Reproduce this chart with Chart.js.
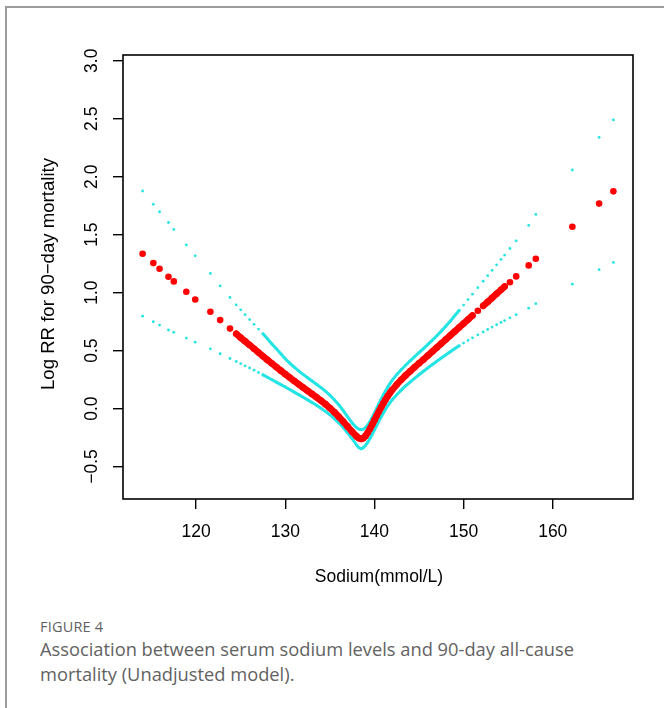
<!DOCTYPE html>
<html>
<head>
<meta charset="utf-8">
<title>Sodium and 90-day mortality</title>
<script src="https://cdn.jsdelivr.net/npm/chart.js@4.4.1/dist/chart.umd.min.js"></script>
<style>
  body { margin: 0; background: #fff; }
  #frame {
    position: absolute; left: 5px; top: 6px; width: 720px; height: 760px;
    border-left: 2px solid #9c9c9c; border-top: 2px solid #9c9c9c;
  }
  #plot { position: absolute; left: 0; top: 0; }
  .caption { position: absolute; left: 40px; font-family: "Open Sans", sans-serif; color: #626262; }
  #figLabel { top: 617px; font-size: 14.5px; letter-spacing: 0.2px; }
  #figText { top: 636px; font-size: 18.3px; line-height: 25px; width: 620px; }
</style>
</head>
<body>
<div id="frame"></div>
<canvas id="plot" width="664" height="600"></canvas>
<div class="caption" id="figLabel">FIGURE 4</div>
<div class="caption" id="figText">Association between serum sodium levels and 90-day all-cause<br>mortality (Unadjusted model).</div>

<script>
// serum sodium (mmol/L) and the fitted log RR with its 95% band
const sodium = [
  114.0, 115.2, 115.9, 116.9, 117.5, 118.9, 119.9, 121.6, 122.7, 123.8,
  124.5, 125.0, 125.5, 126.0, 126.5, 127.0, 127.5, 128.0, 128.5, 129.0,
  129.5, 130.0, 130.5, 131.0, 131.5, 132.0, 132.5, 133.0, 133.5, 134.0,
  134.5, 135.0, 135.5, 136.0, 136.5, 137.0, 137.5, 138.0, 138.25, 138.5,
  138.75, 139.0, 139.25, 139.5, 139.75, 140.0, 140.25, 140.5, 140.75, 141.0,
  141.25, 141.5, 141.75, 142.0, 142.5, 143.0, 143.5, 144.0, 144.5, 145.0,
  145.5, 146.0, 146.5, 147.0, 147.5, 148.0, 148.5, 149.0, 149.5, 150.0,
  150.5, 151.0, 151.6, 152.2, 152.7, 153.2, 153.7, 154.2, 154.6, 155.2,
  155.9, 157.3, 158.1, 162.2, 165.2, 166.8
];
const logRR = [
  1.336, 1.255, 1.206, 1.137, 1.097, 1.008, 0.941, 0.835, 0.763, 0.690,
  0.645, 0.612, 0.580, 0.548, 0.516, 0.484, 0.452, 0.420, 0.389, 0.358,
  0.327, 0.297, 0.267, 0.238, 0.210, 0.182, 0.154, 0.126, 0.098, 0.069,
  0.038, 0.005, -0.031, -0.070, -0.112, -0.156, -0.200, -0.240, -0.255, -0.262,
  -0.255, -0.236, -0.208, -0.175, -0.138, -0.100, -0.062, -0.025, 0.011, 0.045,
  0.078, 0.108, 0.136, 0.162, 0.207, 0.248, 0.286, 0.322, 0.356, 0.390,
  0.423, 0.458, 0.492, 0.527, 0.561, 0.596, 0.630, 0.665, 0.699, 0.734,
  0.768, 0.803, 0.844, 0.886, 0.920, 0.955, 0.990, 1.024, 1.052, 1.090,
  1.140, 1.235, 1.293, 1.569, 1.768, 1.874
];
const upperCI = [
  1.877, 1.762, 1.698, 1.605, 1.545, 1.412, 1.318, 1.166, 1.058, 0.958,
  0.895, 0.852, 0.810, 0.768, 0.727, 0.686, 0.645, 0.602, 0.558, 0.515,
  0.472, 0.430, 0.392, 0.357, 0.325, 0.295, 0.266, 0.238, 0.210, 0.181,
  0.150, 0.116, 0.077, 0.033, -0.017, -0.072, -0.124, -0.165, -0.178, -0.182,
  -0.178, -0.165, -0.142, -0.112, -0.076, -0.038, 0.002, 0.042, 0.081, 0.118,
  0.153, 0.186, 0.217, 0.245, 0.293, 0.335, 0.374, 0.411, 0.447, 0.482,
  0.517, 0.553, 0.590, 0.628, 0.668, 0.710, 0.754, 0.800, 0.846, 0.893,
  0.940, 0.987, 1.043, 1.099, 1.146, 1.193, 1.240, 1.287, 1.324, 1.381,
  1.447, 1.580, 1.675, 2.058, 2.340, 2.490
];
const lowerCI = [
  0.797, 0.749, 0.720, 0.678, 0.658, 0.608, 0.573, 0.515, 0.473, 0.432,
  0.406, 0.388, 0.369, 0.350, 0.331, 0.311, 0.291, 0.270, 0.249, 0.228,
  0.207, 0.186, 0.164, 0.142, 0.120, 0.098, 0.075, 0.052, 0.028, 0.003,
  -0.024, -0.053, -0.086, -0.123, -0.164, -0.210, -0.260, -0.315, -0.337, -0.347,
  -0.338, -0.318, -0.290, -0.258, -0.222, -0.184, -0.146, -0.108, -0.072, -0.038,
  -0.006, 0.024, 0.052, 0.077, 0.120, 0.159, 0.195, 0.229, 0.261, 0.292,
  0.322, 0.351, 0.380, 0.408, 0.436, 0.463, 0.490, 0.516, 0.541, 0.565,
  0.588, 0.610, 0.636, 0.661, 0.682, 0.703, 0.723, 0.743, 0.759, 0.783,
  0.810, 0.866, 0.905, 1.073, 1.198, 1.261
];

const xTicks = [120, 130, 140, 150, 160];
const yTicks = [-0.5, 0, 0.5, 1, 1.5, 2, 2.5, 3];
const yTickLabels = ["\u22120.5", "0.0", "0.5", "1.0", "1.5", "2.0", "2.5", "3.0"];

const RED = "#ff0000";
const CYAN = "#24e4e4";
const FONT = "17.5px 'Liberation Sans', Arial, sans-serif";
const TITLE_FONT = "18.6px 'Liberation Sans', Arial, sans-serif";

// close points are joined so the dense part reads as a solid band
const joinRed = c => (c.p1.parsed.x - c.p0.parsed.x <= 0.55 ? RED : "transparent");
const joinCyan = c =>
  (c.p0.parsed.x >= 127.5 && c.p1.parsed.x <= 149.5 ? CYAN : "transparent");

const toPoints = ys => sodium.map((x, i) => ({ x: x, y: ys[i] }));

// box, tick labels and axis titles drawn like base R graphics
const rAxes = {
  id: "rAxes",
  afterDraw(chart) {
    const { ctx, chartArea: a, scales: { x, y } } = chart;
    ctx.save();
    ctx.strokeStyle = "#000";
    ctx.lineWidth = 1.6;
    ctx.strokeRect(a.left, a.top, a.right - a.left, a.bottom - a.top);

    ctx.fillStyle = "#000";
    ctx.font = FONT;
    ctx.textAlign = "center";
    ctx.textBaseline = "middle";
    xTicks.forEach(v => ctx.fillText(String(v), x.getPixelForValue(v), 532));
    ctx.fillText("Sodium(mmol/L)", (a.left + a.right) / 2 + 1, 577);

    yTicks.forEach((v, i) => {
      ctx.save();
      ctx.translate(92, y.getPixelForValue(v));
      ctx.rotate(-Math.PI / 2);
      ctx.fillText(yTickLabels[i], 0, 0);
      ctx.restore();
    });
    ctx.font = TITLE_FONT;
    ctx.translate(49, (a.top + a.bottom) / 2 - 3);
    ctx.rotate(-Math.PI / 2);
    ctx.fillText("Log RR for 90\u2212day mortality", 0, 0);
    ctx.restore();
  }
};

new Chart(document.getElementById("plot"), {
  type: "scatter",
  data: {
    datasets: [
      {
        data: toPoints(logRR),
        showLine: true,
        borderWidth: 6.6,
        borderCapStyle: "round",
        borderJoinStyle: "round",
        segment: { borderColor: joinRed },
        pointRadius: 3.3,
        pointBorderWidth: 0,
        pointBackgroundColor: RED
      },
      {
        data: toPoints(upperCI),
        showLine: true,
        borderWidth: 3,
        borderCapStyle: "round",
        segment: { borderColor: joinCyan },
        pointRadius: 1.4,
        pointBorderWidth: 0,
        pointBackgroundColor: CYAN
      },
      {
        data: toPoints(lowerCI),
        showLine: true,
        borderWidth: 3,
        borderCapStyle: "round",
        segment: { borderColor: joinCyan },
        pointRadius: 1.4,
        pointBorderWidth: 0,
        pointBackgroundColor: CYAN
      }
    ]
  },
  options: {
    responsive: false,
    animation: false,
    layout: { padding: { left: 0, top: 55, right: 31, bottom: 0 } },
    plugins: { legend: { display: false }, tooltip: { enabled: false } },
    scales: {
      x: {
        type: "linear",
        min: 111.8,
        max: 169.0,
        afterBuildTicks: s => { s.ticks = xTicks.map(v => ({ value: v })); },
        afterFit: s => { s.height = 101; },
        ticks: { display: false },
        border: { display: false },
        grid: { drawOnChartArea: false, tickLength: 10, color: "#000", lineWidth: 1.4 }
      },
      y: {
        type: "linear",
        min: -0.78,
        max: 3.05,
        afterBuildTicks: s => { s.ticks = yTicks.map(v => ({ value: v })); },
        afterFit: s => { s.width = 123; },
        ticks: { display: false },
        border: { display: false },
        grid: { drawOnChartArea: false, tickLength: 10, color: "#000", lineWidth: 1.4 }
      }
    }
  },
  plugins: [rAxes]
});
</script>
</body>
</html>
